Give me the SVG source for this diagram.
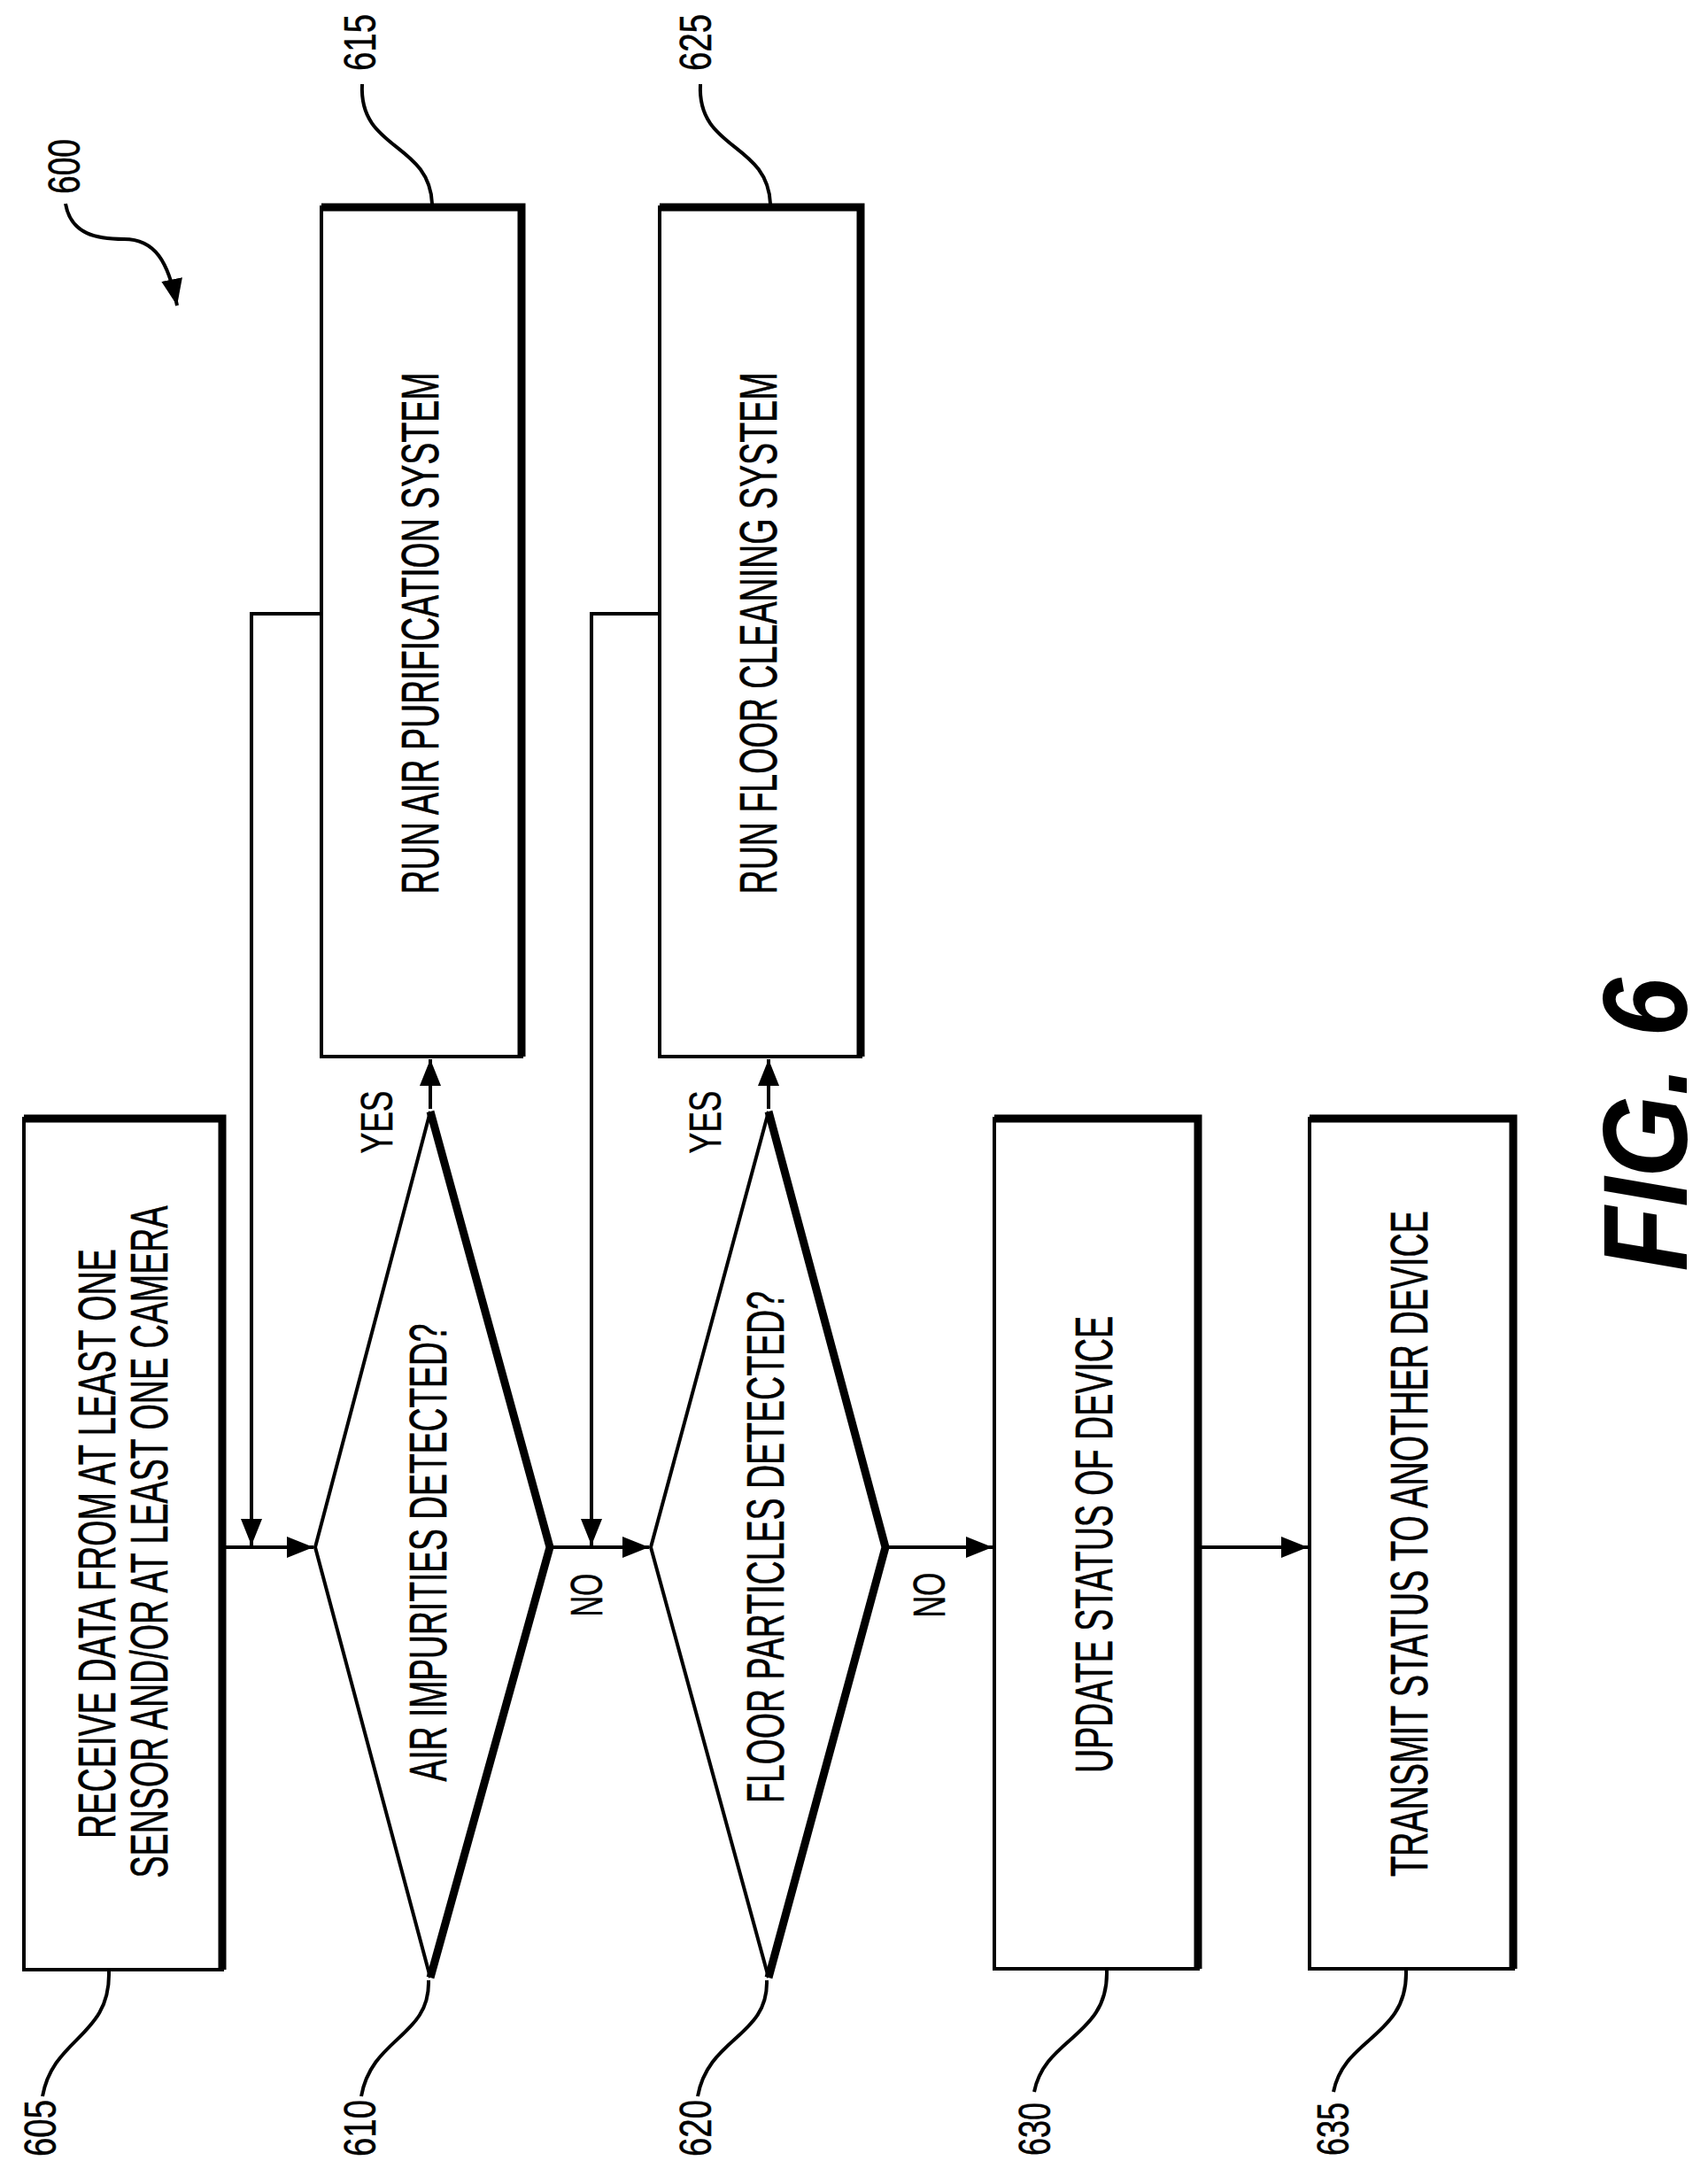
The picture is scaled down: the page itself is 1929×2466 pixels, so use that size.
<svg xmlns="http://www.w3.org/2000/svg" width="1929" height="2466" viewBox="0 0 1929 2466">
<style>
.b{fill:#fff;stroke:#000;stroke-width:4}
.s{fill:none;stroke:#000;stroke-width:9}
.l{fill:none;stroke:#000;stroke-width:4}
.t{font-family:"Liberation Sans",Arial,sans-serif;font-size:60px;text-anchor:middle;stroke:#000;stroke-width:0.6}
.n{font-family:"Liberation Sans",Arial,sans-serif;font-size:50px;text-anchor:middle;stroke:#000;stroke-width:0.5}
</style>
<defs>
<marker id="A" viewBox="0 0 30 24" refX="30" refY="12" markerWidth="30" markerHeight="24" orient="auto" markerUnits="userSpaceOnUse"><path d="M0,0L30,12L0,24z"/></marker></defs>
<rect width="1929" height="2466" fill="#fff"/>
<g id="n600"><text class="n" transform="rotate(-90 90 188)" x="90" y="188" textLength="62" lengthAdjust="spacingAndGlyphs">600</text><path class="l" d="M74,230C80,265 110,270 140,270C175,270 190,295 200,345" marker-end="url(#A)"/></g>
<g id="n605"><rect class="b" x="27" y="1263" width="224" height="961"/><path class="s" d="M27,1263H251V2224"/>
<text class="t" transform="rotate(-90 130 1743)" x="130" y="1743" textLength="666" lengthAdjust="spacingAndGlyphs">RECEIVE DATA FROM AT LEAST ONE</text>
<text class="t" transform="rotate(-90 189 1741)" x="189" y="1741" textLength="759" lengthAdjust="spacingAndGlyphs">SENSOR AND/OR AT LEAST ONE CAMERA</text>
<text class="n" transform="rotate(-90 63 2403)" x="63" y="2403" textLength="64" lengthAdjust="spacingAndGlyphs">605</text><path class="l" d="M123,2226C125,2300 60,2300 48,2367"/></g>
<g id="n610"><path class="l" d="M486,1255L356,1747L486,2233"/><path class="s" d="M486,1255L621,1747L486,2233"/>
<text class="t" transform="rotate(-90 504 1753)" x="504" y="1753" textLength="517" lengthAdjust="spacingAndGlyphs">AIR IMPURITIES DETECTED?</text>
<text class="n" transform="rotate(-90 424 2403)" x="424" y="2403" textLength="64" lengthAdjust="spacingAndGlyphs">610</text><path class="l" d="M484,2236C486,2300 420,2300 408,2367"/></g>
<g id="n615"><rect class="b" x="363" y="234" width="226" height="959"/><path class="s" d="M363,234H589V1193"/>
<text class="t" transform="rotate(-90 495 715)" x="495" y="715" textLength="589" lengthAdjust="spacingAndGlyphs">RUN AIR PURIFICATION SYSTEM</text>
<text class="n" transform="rotate(-90 424 48)" x="424" y="48" textLength="64" lengthAdjust="spacingAndGlyphs">615</text><path class="l" d="M409,95C405,170 485,160 488,230"/></g>
<g id="n620"><path class="l" d="M868,1255L735,1747L868,2233"/><path class="s" d="M868,1255L1000,1747L868,2233"/>
<text class="t" transform="rotate(-90 885 1747)" x="885" y="1747" textLength="578" lengthAdjust="spacingAndGlyphs">FLOOR PARTICLES DETECTED?</text>
<text class="n" transform="rotate(-90 803 2403)" x="803" y="2403" textLength="64" lengthAdjust="spacingAndGlyphs">620</text><path class="l" d="M866,2236C868,2300 800,2300 788,2367"/></g>
<g id="n625"><rect class="b" x="745" y="234" width="227" height="959"/><path class="s" d="M745,234H972V1193"/>
<text class="t" transform="rotate(-90 877 715)" x="877" y="715" textLength="589" lengthAdjust="spacingAndGlyphs">RUN FLOOR CLEANING SYSTEM</text>
<text class="n" transform="rotate(-90 803 48)" x="803" y="48" textLength="64" lengthAdjust="spacingAndGlyphs">625</text><path class="l" d="M791,95C787,170 867,160 870,230"/></g>
<g id="n630"><rect class="b" x="1123" y="1263" width="230" height="960"/><path class="s" d="M1123,1263H1353V2223"/>
<text class="t" transform="rotate(-90 1256 1744)" x="1256" y="1744" textLength="516" lengthAdjust="spacingAndGlyphs">UPDATE STATUS OF DEVICE</text>
<text class="n" transform="rotate(-90 1186 2404)" x="1186" y="2404" textLength="60" lengthAdjust="spacingAndGlyphs">630</text><path class="l" d="M1250,2225C1252,2300 1180,2300 1168,2362"/></g>
<g id="n635"><rect class="b" x="1479" y="1263" width="230" height="960"/><path class="s" d="M1479,1263H1709V2223"/>
<text class="t" transform="rotate(-90 1612 1743)" x="1612" y="1743" textLength="752" lengthAdjust="spacingAndGlyphs">TRANSMIT STATUS TO ANOTHER DEVICE</text>
<text class="n" transform="rotate(-90 1523 2404)" x="1523" y="2404" textLength="60" lengthAdjust="spacingAndGlyphs">635</text><path class="l" d="M1588,2225C1590,2300 1518,2300 1506,2362"/></g>
<g id="connectors">
<path class="l" d="M253,1747H354" marker-end="url(#A)"/>
<path class="l" d="M363,693H284V1745" marker-end="url(#A)"/>
<path class="l" d="M486,1252V1196" marker-end="url(#A)"/>
<path class="l" d="M623,1747H733" marker-end="url(#A)"/>
<path class="l" d="M745,693H668V1745" marker-end="url(#A)"/>
<path class="l" d="M868,1252V1196" marker-end="url(#A)"/>
<path class="l" d="M1002,1747H1121" marker-end="url(#A)"/>
<path class="l" d="M1355,1747H1477" marker-end="url(#A)"/>
<text class="n" transform="rotate(-90 443 1267)" x="443" y="1267" textLength="71" lengthAdjust="spacingAndGlyphs">YES</text>
<text class="n" transform="rotate(-90 814 1267)" x="814" y="1267" textLength="71" lengthAdjust="spacingAndGlyphs">YES</text>
<text class="n" transform="rotate(-90 680 1801)" x="680" y="1801" textLength="49" lengthAdjust="spacingAndGlyphs">NO</text>
<text class="n" transform="rotate(-90 1067 1801)" x="1067" y="1801" textLength="51" lengthAdjust="spacingAndGlyphs">NO</text>
</g>
<text transform="rotate(-90 1905 1270)" x="1905" y="1270" style="font-family:'Liberation Sans',Arial,sans-serif;font-size:135px;font-weight:bold;font-style:italic;text-anchor:middle" textLength="331" lengthAdjust="spacingAndGlyphs">FIG. 6</text>
</svg>
